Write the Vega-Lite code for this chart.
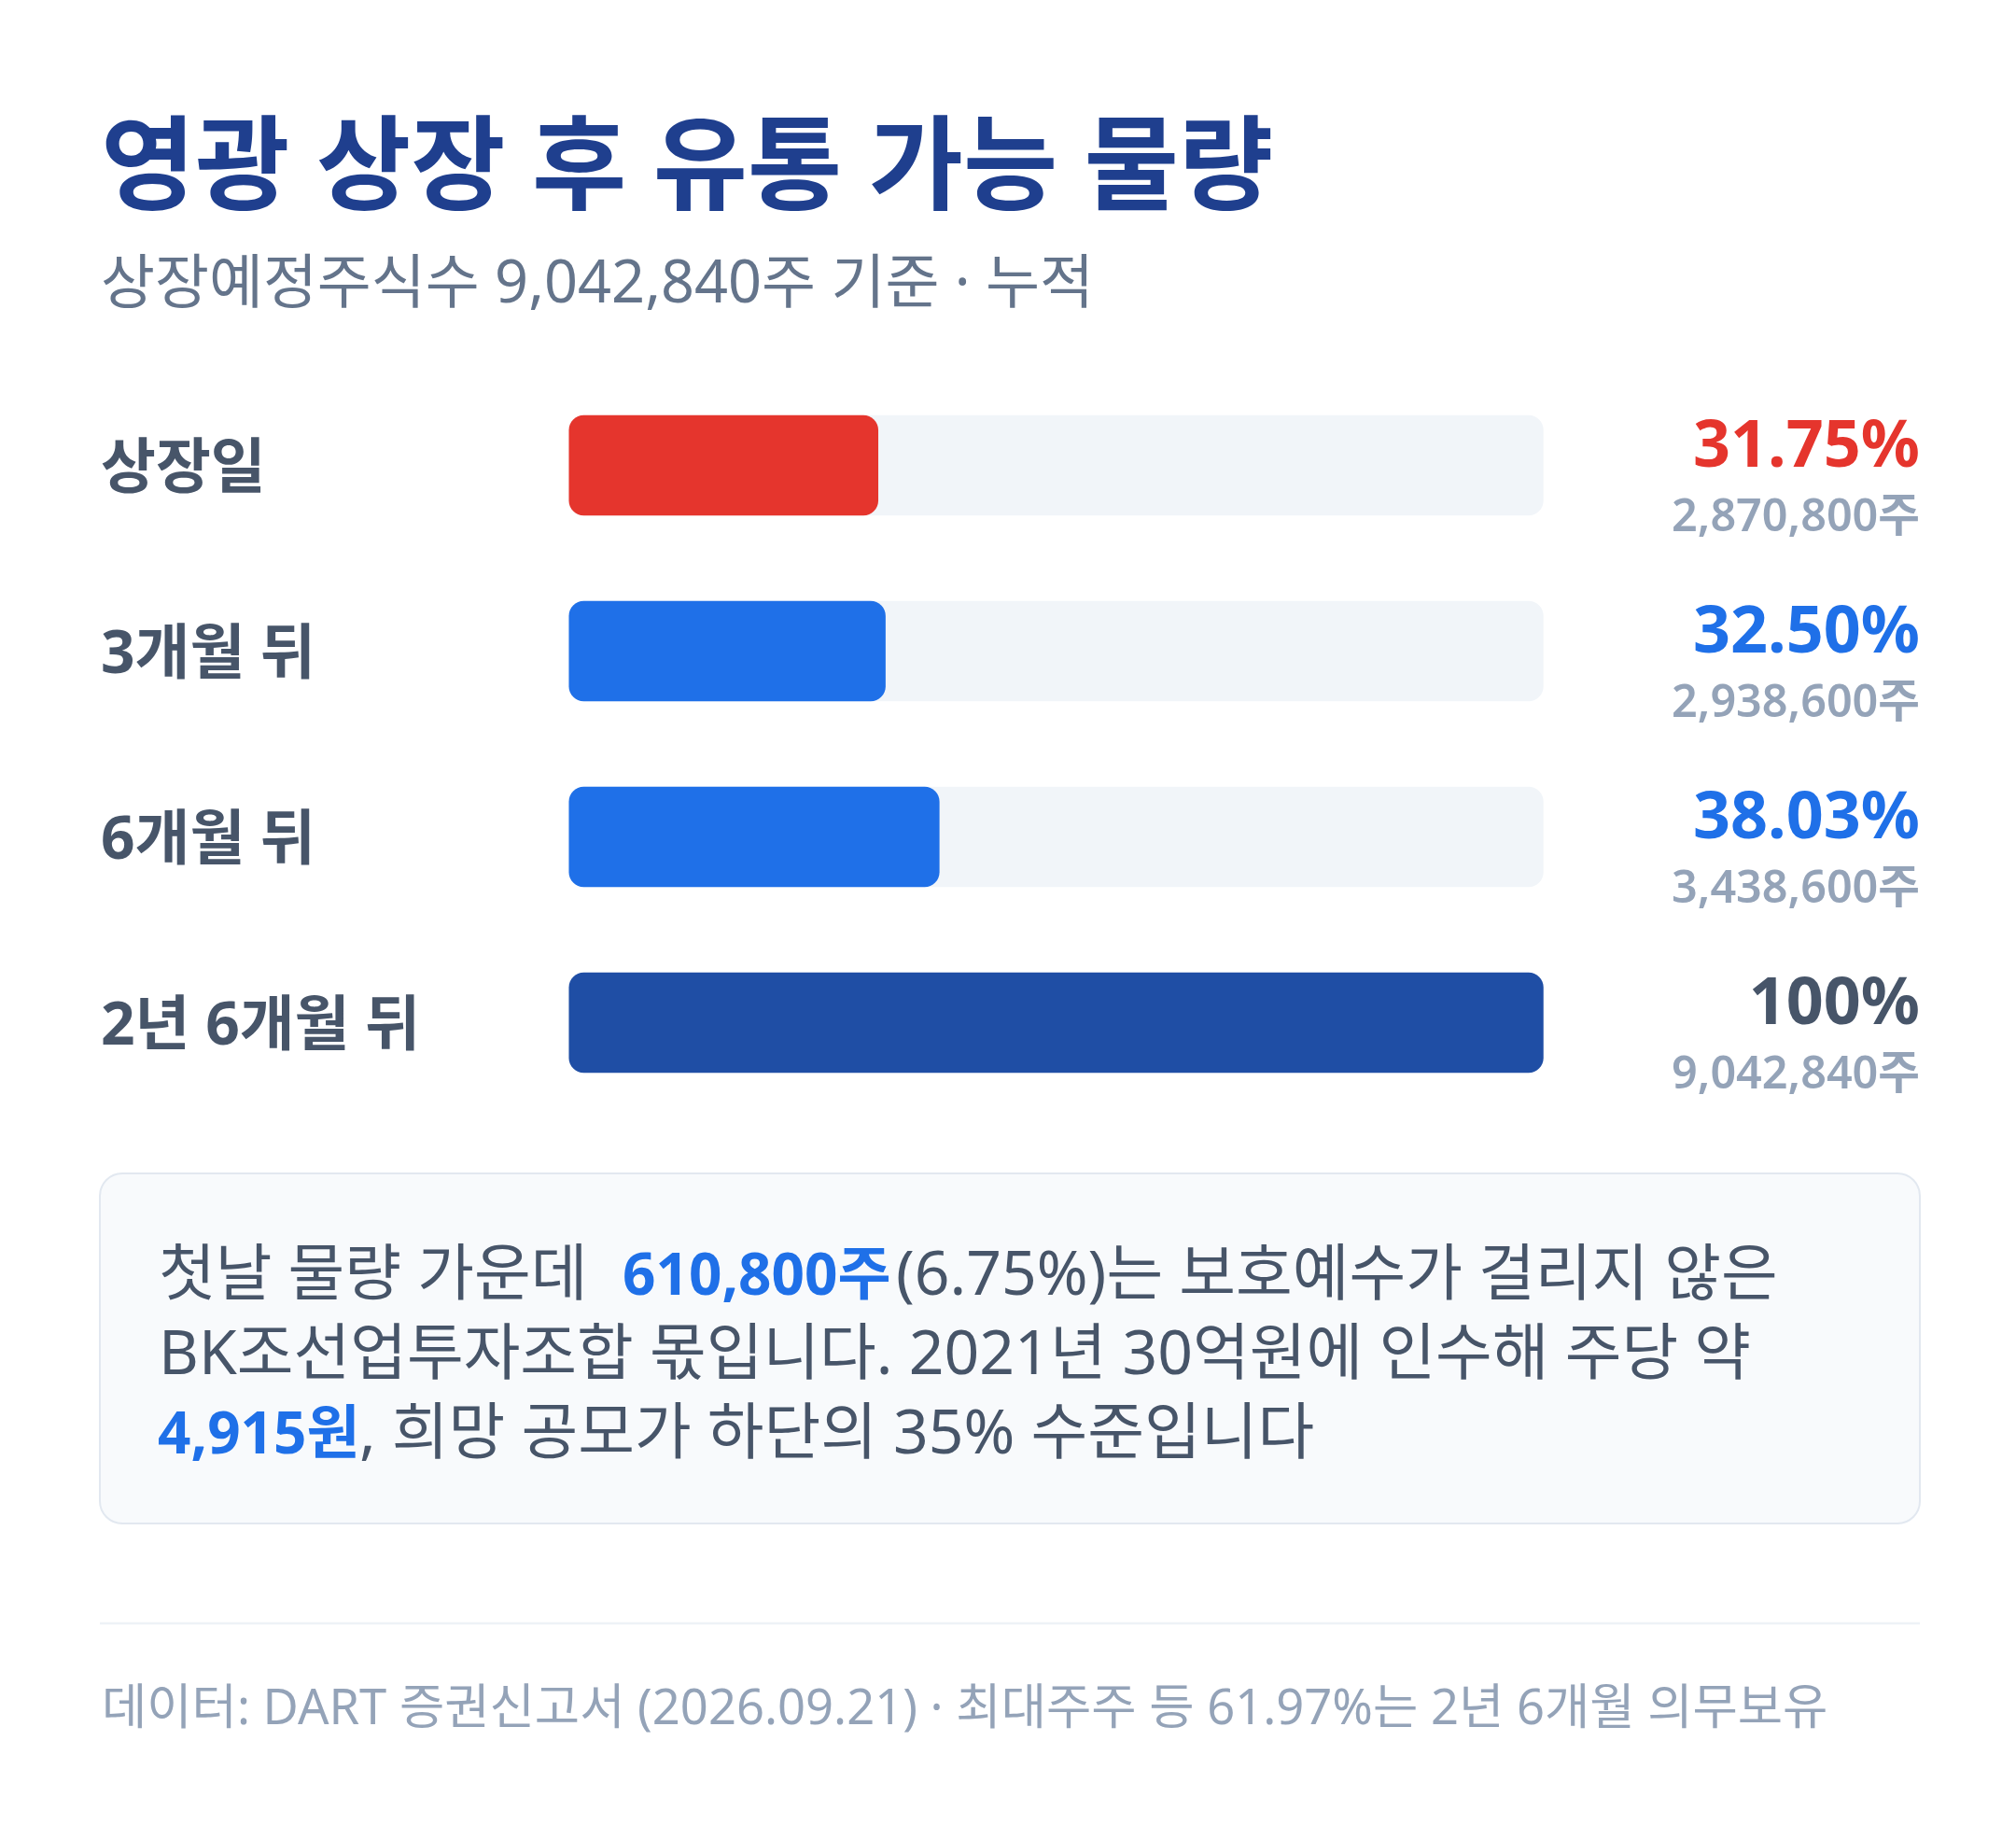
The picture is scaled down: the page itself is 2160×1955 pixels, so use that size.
{
  "$schema": "https://vega.github.io/schema/vega-lite/v6.json",
  "background": "white",
  "padding": {"left": 105, "right": 105, "top": 0, "bottom": 0},
  "spacing": 61,
  "vconcat": [
    {
      "width": 1950,
      "height": 338,
      "data": {"values": [
        {"kind": "title", "text": "영광 상장 후 유통 가능 물량"},
        {"kind": "subtitle", "text": "상장예정주식수 9,042,840주 기준 · 누적"}
      ]},
      "encoding": {
        "x": {"datum": 0, "type": "quantitative", "axis": null, "scale": {"domain": [0, 1]}},
        "text": {"field": "text"}
      },
      "layer": [
        {
          "transform": [{"filter": "datum.kind === 'title'"}],
          "mark": {"type": "text", "align": "left", "baseline": "alphabetic", "dx": 1,
                   "font": "Noto Sans, Noto Sans CJK KR", "fontSize": 110, "fontWeight": "bold",
                   "color": "#1f3f8e"},
          "encoding": {
            "y": {"datum": 0.64, "type": "quantitative", "axis": null,
                  "scale": {"domain": [0, 1], "reverse": true, "zero": false, "nice": false}}
          }
        },
        {
          "transform": [{"filter": "datum.kind === 'subtitle'"}],
          "mark": {"type": "text", "align": "left", "baseline": "alphabetic", "dx": 1,
                   "font": "Noto Sans, Noto Sans CJK KR", "fontSize": 63,
                   "color": "#64748b"},
          "encoding": {
            "y": {"datum": 0.96, "type": "quantitative"}
          }
        }
      ]
    },
    {
      "width": 1950,
      "height": 796,
      "data": {"values": [
        {"stage": "상장일", "pct": 31.75, "pct_label": "31.75%", "shares_label": "2,870,800주"},
        {"stage": "3개월 뒤", "pct": 32.5, "pct_label": "32.50%", "shares_label": "2,938,600주"},
        {"stage": "6개월 뒤", "pct": 38.03, "pct_label": "38.03%", "shares_label": "3,438,600주"},
        {"stage": "2년 6개월 뒤", "pct": 100, "pct_label": "100%", "shares_label": "9,042,840주"}
      ]},
      "encoding": {
        "y": {"field": "stage", "type": "nominal", "sort": null, "axis": null,
              "scale": {"paddingInner": 0.46, "paddingOuter": 0.23}}
      },
      "layer": [
        {
          "mark": {"type": "rect", "color": "#f1f5f9", "cornerRadius": 16},
          "encoding": {
            "x": {"datum": 0, "type": "quantitative", "axis": null,
                  "scale": {"domain": [-48.12, 138.62], "zero": false, "nice": false}},
            "x2": {"datum": 100}
          }
        },
        {
          "mark": {"type": "rect", "cornerRadius": 16},
          "encoding": {
            "x": {"field": "pct", "type": "quantitative"},
            "x2": {"datum": 0},
            "color": {"field": "stage", "type": "nominal", "legend": null,
                      "scale": {"domain": ["상장일", "3개월 뒤", "6개월 뒤", "2년 6개월 뒤"],
                                "range": ["#e5352d", "#1f70e8", "#1f70e8", "#1f4ea5"]}}
          }
        },
        {
          "mark": {"type": "text", "align": "left", "baseline": "alphabetic", "dy": 23, "dx": 1,
                   "font": "Noto Sans, Noto Sans CJK KR", "fontSize": 64, "fontWeight": "bold",
                   "color": "#475569"},
          "encoding": {
            "x": {"datum": -48.12, "type": "quantitative"},
            "text": {"field": "stage"}
          }
        },
        {
          "mark": {"type": "text", "align": "right", "baseline": "alphabetic", "dy": 1,
                   "font": "Noto Sans, Noto Sans CJK KR", "fontSize": 70, "fontWeight": "bold"},
          "encoding": {
            "x": {"datum": 138.62, "type": "quantitative"},
            "text": {"field": "pct_label"},
            "color": {"field": "stage", "type": "nominal", "legend": null,
                      "scale": {"domain": ["상장일", "3개월 뒤", "6개월 뒤", "2년 6개월 뒤"],
                                "range": ["#e5352d", "#1f70e8", "#1f70e8", "#475569"]}}
          }
        },
        {
          "mark": {"type": "text", "align": "right", "baseline": "alphabetic", "dy": 70,
                   "font": "Noto Sans, Noto Sans CJK KR", "fontSize": 48.5, "fontWeight": 600,
                   "color": "#94a3b8"},
          "encoding": {
            "x": {"datum": 138.62, "type": "quantitative"},
            "text": {"field": "shares_label"}
          }
        }
      ],
      "resolve": {"scale": {"color": "independent"}}
    },
    {
      "width": 1950,
      "height": 375,
      "view": {"fill": "#f8fafc", "stroke": "#e2e8f0", "strokeWidth": 2, "cornerRadius": 24},
      "data": {"values": [
        {"line": 1, "seg": "a", "text": "첫날 물량 가운데"},
        {"line": 1, "seg": "b", "text": "610,800주"},
        {"line": 1, "seg": "c", "text": "(6.75%)는 보호예수가 걸리지 않은"},
        {"line": 2, "seg": "a", "text": "BK조선업투자조합 몫입니다. 2021년 30억원에 인수해 주당 약"},
        {"line": 3, "seg": "d", "text": "4,915원"},
        {"line": 3, "seg": "e", "text": ", 희망 공모가 하단의 35% 수준입니다"}
      ]},
      "encoding": {
        "x": {"datum": 0, "type": "quantitative", "axis": null, "scale": {"domain": [0, 1]}},
        "y": {"field": "line", "type": "quantitative", "axis": null,
              "scale": {"domain": [-0.535, 3.877], "reverse": true, "zero": false, "nice": false}},
        "text": {"field": "text"}
      },
      "layer": [
        {
          "transform": [{"filter": "datum.seg === 'a'"}],
          "mark": {"type": "text", "align": "left", "baseline": "alphabetic", "dx": 63,
                   "font": "Noto Sans, Noto Sans CJK KR", "fontSize": 66, "color": "#475569"}
        },
        {
          "transform": [{"filter": "datum.seg === 'b'"}],
          "mark": {"type": "text", "align": "left", "baseline": "alphabetic", "dx": 560,
                   "font": "Noto Sans, Noto Sans CJK KR", "fontSize": 62, "fontWeight": "bold",
                   "color": "#1f70e8"}
        },
        {
          "transform": [{"filter": "datum.seg === 'c'"}],
          "mark": {"type": "text", "align": "left", "baseline": "alphabetic", "dx": 853,
                   "font": "Noto Sans, Noto Sans CJK KR", "fontSize": 66, "color": "#475569"}
        },
        {
          "transform": [{"filter": "datum.seg === 'd'"}],
          "mark": {"type": "text", "align": "left", "baseline": "alphabetic", "dx": 62,
                   "font": "Noto Sans, Noto Sans CJK KR", "fontSize": 62, "fontWeight": "bold",
                   "color": "#1f70e8"}
        },
        {
          "transform": [{"filter": "datum.seg === 'e'"}],
          "mark": {"type": "text", "align": "left", "baseline": "alphabetic", "dx": 278,
                   "font": "Noto Sans, Noto Sans CJK KR", "fontSize": 66, "color": "#475569"}
        }
      ]
    },
    {
      "width": 1950,
      "height": 263,
      "data": {"values": [
        {"text": "데이터: DART 증권신고서 (2026.09.21) · 최대주주 등 61.97%는 2년 6개월 의무보유"}
      ]},
      "layer": [
        {
          "mark": {"type": "rule", "color": "#eef2f7", "strokeWidth": 2.5},
          "encoding": {
            "y": {"datum": 0.171, "type": "quantitative", "axis": null,
                  "scale": {"domain": [0, 1], "reverse": true, "zero": false, "nice": false}}
          }
        },
        {
          "mark": {"type": "text", "align": "left", "baseline": "alphabetic", "dx": 2,
                   "font": "Noto Sans, Noto Sans CJK KR", "fontSize": 52.5, "color": "#94a3b8"},
          "encoding": {
            "x": {"datum": 0, "type": "quantitative", "axis": null, "scale": {"domain": [0, 1]}},
            "y": {"datum": 0.582, "type": "quantitative"},
            "text": {"field": "text"}
          }
        }
      ]
    }
  ],
  "config": {
    "view": {"stroke": null},
    "font": "Noto Sans, Noto Sans CJK KR"
  }
}
